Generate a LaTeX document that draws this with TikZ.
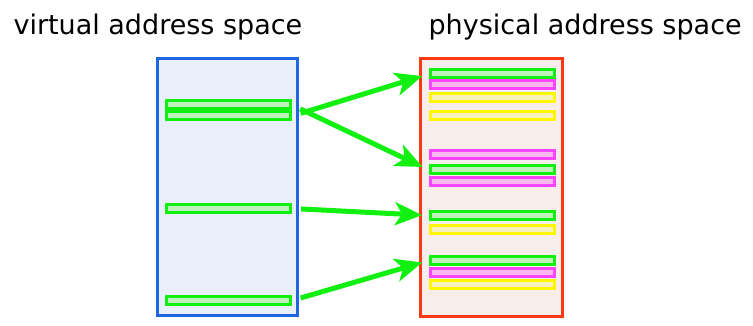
\documentclass[tikz,border=0pt]{standalone}
\usepackage{fontspec}
\setmainfont{DejaVu Sans}
\usetikzlibrary{arrows.meta}

\definecolor{vline}{HTML}{1F66E0}
\definecolor{vfill}{HTML}{EAF0FB}
\definecolor{pline}{HTML}{FF3814}
\definecolor{pfill}{HTML}{F7EEEC}
\definecolor{gline}{HTML}{11F011}
\definecolor{gfill}{HTML}{BDF2BD}
\definecolor{mline}{HTML}{FF44FF}
\definecolor{mfill}{HTML}{F9B8F2}
\definecolor{yline}{HTML}{FFF700}
\definecolor{yfill}{HTML}{F7F2BE}

\begin{document}
\begin{tikzpicture}[x=1pt,y=-1pt,
  space/.style={draw,line width=3pt,inner sep=0pt},
  bar/.style={draw,line width=3pt,inner sep=0pt,minimum width=124pt,minimum height=8pt},
  gbar/.style={bar,draw=gline,fill=gfill},
  mbar/.style={bar,draw=mline,fill=mfill},
  ybar/.style={bar,draw=yline,fill=yfill},
  link/.style={draw=gline,line width=5pt,shorten <=9pt,shorten >=7pt,
    -{Stealth[length=27pt,width=23pt,inset=7pt]}}]
  \useasboundingbox (0,0) rectangle (753,326);

  % titles
  \node[anchor=base west,font=\fontsize{27}{32}\selectfont] (vlabel) at (10,35) {virtual address space};
  \node[anchor=base west,font=\fontsize{27}{32}\selectfont] (plabel) at (425,35) {physical address space};

  % the two spaces
  \node[space,draw=vline,fill=vfill,minimum width=140pt,minimum height=257pt] (vbox) at (227.5,187) {};
  \node[space,draw=pline,fill=pfill,minimum width=142pt,minimum height=258pt] (pbox) at (491.5,187.5) {};

  % virtual pages
  \node[gbar] (v1) at (228.5,105) {};
  \node[gbar] (v2) at (228.5,116) {};
  \node[gbar] (v3) at (228.5,208.5) {};
  \node[gbar] (v4) at (228.5,300.5) {};

  % physical frames
  \node[gbar] (p1)  at (492.5,74) {};
  \node[mbar] (p2)  at (492.5,85) {};
  \node[ybar] (p3)  at (492.5,98) {};
  \node[ybar] (p4)  at (492.5,115.5) {};
  \node[mbar] (p5)  at (492.5,155) {};
  \node[gbar] (p6)  at (492.5,170) {};
  \node[mbar] (p7)  at (492.5,181.5) {};
  \node[gbar] (p8)  at (492.5,215.5) {};
  \node[ybar] (p9)  at (492.5,229.5) {};
  \node[gbar] (p10) at (492.5,260.5) {};
  \node[mbar] (p11) at (492.5,272.5) {};
  \node[ybar] (p12) at (492.5,284.5) {};

  % mapping
  \draw[link] (v1.east) -- (p6.west);
  \draw[link] (v2.east) -- (p1.west);
  \draw[link] (v3.east) -- (p8.west);
  \draw[link] (v4.east) -- (p10.west);
\end{tikzpicture}
\end{document}
